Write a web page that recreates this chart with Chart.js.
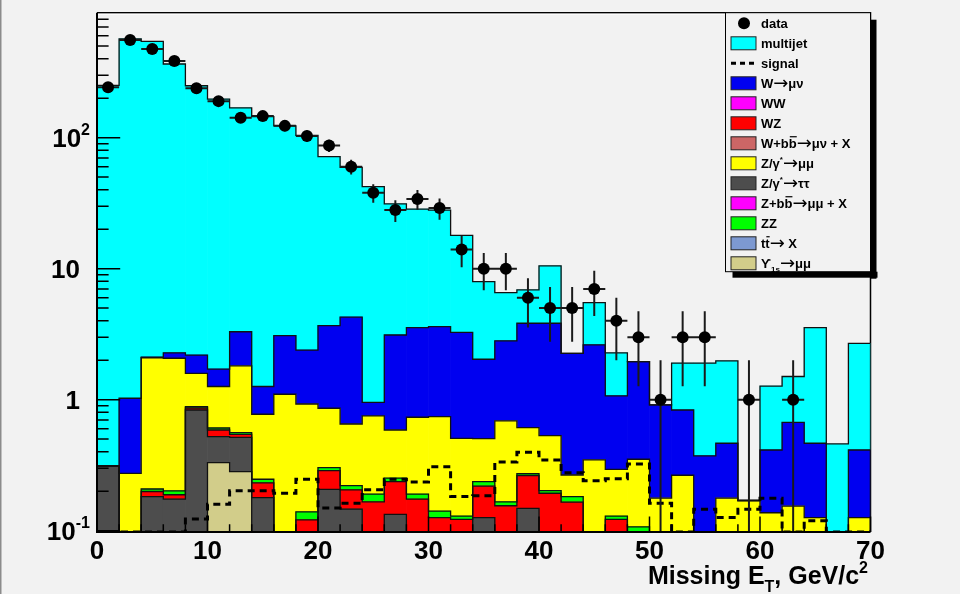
<!DOCTYPE html>
<html>
<head>
<meta charset="utf-8">
<script src="https://cdn.jsdelivr.net/npm/chart.js@4.4.1/dist/chart.umd.min.js"></script>
<style>
  html, body { margin: 0; padding: 0; background: #f2f2f2; }
  #wrap { width: 960px; height: 594px; }
  canvas { display: block; }
</style>
</head>
<body>
<div id="wrap"><canvas id="met" width="960" height="594"></canvas></div>
<script>
// Missing E_T spectrum, 2 GeV/c^2 bins from 0 to 70
const binCenters = [1, 3, 5, 7, 9, 11, 13, 15, 17, 19, 21, 23, 25, 27, 29, 31, 33, 35,
                    37, 39, 41, 43, 45, 47, 49, 51, 53, 55, 57, 59, 61, 63, 65, 67, 69];
const binHalfWidth = 1;

// observed events per bin
const dataCounts = [243, 557, 475, 385, 238, 190, 142, 146, 123, 103, 87, 60, 38, 28, 34, 29, 14, 10,
                    10, 6, 5, 5, 7, 4, 3, 1, 3, 3, 0, 1, 0, 1, 0, 0, 0];

// expected contributions, listed from the bottom of the stack upwards
const upsilon1s = [0, 0, 0, 0, 0, 0.331, 0.282, 0, 0, 0, 0, 0, 0, 0, 0, 0, 0, 0,
                   0, 0, 0, 0, 0, 0, 0, 0, 0, 0, 0, 0, 0, 0, 0, 0, 0];
const zTauTau = [0.312, 0, 0.182, 0.174, 0.834, 0.191, 0.234, 0.179, 0, 0, 0.207, 0.146, 0, 0.133, 0, 0, 0, 0.126,
                 0, 0.148, 0, 0, 0, 0, 0, 0, 0, 0, 0, 0, 0, 0, 0, 0, 0];
const wz = [0, 0, 0.017, 0.014, 0.030, 0.065, 0.028, 0.053, 0, 0.121, 0.080, 0.059, 0.166, 0.104, 0.174, 0.126, 0.122, 0.093,
            0.155, 0.115, 0.193, 0.165, 0, 0.122, 0, 0, 0, 0, 0, 0, 0, 0, 0, 0, 0];
const zz = [0, 0, 0.009, 0.013, 0.020, 0.021, 0.016, 0.015, 0, 0.018, 0.016, 0.016, 0.024, 0.015, 0.016, 0.015, 0.007, 0.018,
            0.011, 0.009, 0.009, 0.017, 0, 0.007, 0.107, 0, 0, 0, 0, 0, 0, 0, 0, 0, 0];
const zMuMu = [0, 0.274, 1.882, 1.869, 0.706, 0.652, 1.25, 0.527, 1.10, 0.788, 0.557, 0.431, 0.561, 0.335, 0.544, 0.601, 0.378, 0.267,
               0.522, 0.339, 0.329, 0.084, 0.347, 0.165, 0.244, 0.177, 0.265, 0, 0.177, 0.170, 0.137, 0.154, 0.126, 0, 0.126];
const wMuNu = [0, 0.751, 0.02, 0.21, 0.60, 0.45, 1.49, 0.486, 1.98, 1.463, 2.81, 3.61, 0.204, 2.53, 2.81, 2.87, 2.76, 1.53,
               2.12, 3.22, 3.30, 1.99, 2.27, 0.776, 1.60, 0.734, 0.569, 0.372, 0.288, 0, 0.276, 0.518, 0.339, 0, 0.287];
const multijet = [250.7, 566, 541, 362.7, 246.8, 195.3, 165.7, 143.7, 119.9, 101.6, 67.9, 55.1, 41.3, 28.1, 24.9, 24.4, 14.7, 5.93,
                  3.75, 3.05, 6.67, 0, 2.88, 1.21, 0, 0, 1.07, 1.53, 1.51, 0, 0.857, 0.83, 3.08, 0.459, 2.28];

// signal expectation (overlaid, not stacked)
const signal = [0, 0, 0, 0, 0.123, 0.159, 0.202, 0.202, 0.193, 0.247, 0.149, 0.162, 0.205, 0.247, 0.235, 0.308, 0.182, 0.185,
                0.335, 0.397, 0.347, 0.277, 0.241, 0.249, 0.323, 0.162, 0, 0.146, 0.126, 0.146, 0.177, 0, 0.119, 0, 0];

// axis ranges and tick labels
const X_MIN = 0, X_MAX = 70;
const Y_MIN = 0.0977, Y_MAX = 899;
const xMajorTicks = [0, 10, 20, 30, 40, 50, 60, 70];
const xMinorStep = 2;
const yDecades = [0.1, 1, 10, 100];
const yTickLabels = [['10', '-1'], ['1', ''], ['10', ''], ['10', '2']];

const FONT = '"Liberation Sans", Arial, Helvetica, sans-serif';
const ARROW_FONT = '"DejaVu Sans", sans-serif';
const BG = '#f2f2f2';

const stackDefs = [
  { label: 'Υ1s→μμ', values: upsilon1s, color: '#d2cd8a' },
  { label: 'Z/γ*→ττ', values: zTauTau, color: '#4d4d4d' },
  { label: 'WZ', values: wz, color: '#ff0000' },
  { label: 'ZZ', values: zz, color: '#00ff00' },
  { label: 'Z/γ*→μμ', values: zMuMu, color: '#ffff00' },
  { label: 'W→μν', values: wMuNu, color: '#0000f0' },
  { label: 'multijet', values: multijet, color: '#00ffff' },
];

const legendRows = [
  { kind: 'marker', parts: [{ t: 'data' }] },
  { kind: 'box', color: '#00ffff', parts: [{ t: 'multijet' }] },
  { kind: 'dash', parts: [{ t: 'signal' }] },
  { kind: 'box', color: '#0000f0', parts: [{ t: 'W→μν' }] },
  { kind: 'box', color: '#ff00ff', parts: [{ t: 'WW' }] },
  { kind: 'box', color: '#ff0000', parts: [{ t: 'WZ' }] },
  { kind: 'box', color: '#cc6666', parts: [{ t: 'W+b' }, { t: 'b', bar: true }, { t: '→μν + X' }] },
  { kind: 'box', color: '#ffff00', parts: [{ t: 'Z/γ' }, { t: '*', sup: true }, { t: '→μμ' }] },
  { kind: 'box', color: '#4d4d4d', parts: [{ t: 'Z/γ' }, { t: '*', sup: true }, { t: '→ττ' }] },
  { kind: 'box', color: '#ff00ff', parts: [{ t: 'Z+b' }, { t: 'b', bar: true }, { t: '→μμ + X' }] },
  { kind: 'box', color: '#00ff00', parts: [{ t: 'ZZ' }] },
  { kind: 'box', color: '#7d99d1', parts: [{ t: 't' }, { t: 't', bar: true }, { t: '→ X' }] },
  { kind: 'box', color: '#d2cd8a', parts: [{ t: 'ϒ' }, { t: '1s', sub: true }, { t: '→μμ' }] },
];

// split arrows out so they can use a font with a long arrow glyph
function expandParts(parts) {
  const out = [];
  for (const p of parts) {
    const pieces = p.t.split(/(→)/);
    for (const t of pieces) {
      if (!t) continue;
      out.push(Object.assign({}, p, { t, arrow: t === '→' }));
    }
  }
  return out;
}

// text with sub/superscripts and overbars; y is the baseline
function drawRich(ctx, parts, x, y, size, align) {
  const fontOf = (p) => {
    if (p.arrow) return `${Math.round(size * 1.35)}px ${ARROW_FONT}`;
    const s = (p.sub || p.sup) ? Math.round(size * 0.62) : size;
    return `bold ${s}px ${FONT}`;
  };
  const segs = expandParts(parts).map(p => {
    ctx.font = fontOf(p);
    return { p, w: ctx.measureText(p.t).width };
  });
  const total = segs.reduce((a, g) => a + g.w, 0);
  let cx = align === 'right' ? x - total : align === 'center' ? x - total / 2 : x;
  ctx.textAlign = 'left';
  ctx.textBaseline = 'alphabetic';
  for (const g of segs) {
    ctx.font = fontOf(g.p);
    const dy = g.p.sub ? size * 0.32 : g.p.sup ? -size * 0.45 : g.p.arrow ? size * 0.05 : 0;
    ctx.fillText(g.p.t, cx, y + dy);
    if (g.p.bar) ctx.fillRect(cx + 1, y - size * 0.92, g.w - 1, Math.max(1.2, size * 0.09));
    cx += g.w;
  }
  return total;
}

function cumulativeUpTo(k, i) {
  let s = 0;
  for (let j = 0; j <= k; j++) s += stackDefs[j].values[i];
  return s;
}

const rootStyle = {
  id: 'rootStyle',
  beforeDraw(chart) {
    const { ctx, width, height } = chart;
    ctx.save();
    ctx.fillStyle = BG;
    ctx.fillRect(0, 0, width, height);
    ctx.fillStyle = '#8c8c8c';
    ctx.fillRect(0, 0, 1.5, height);
    ctx.restore();
  },
  beforeDatasetsDraw(chart) {
    const { ctx, chartArea: a } = chart;
    ctx.save();
    ctx.strokeStyle = '#000';
    ctx.lineWidth = 1.5;
    ctx.beginPath();
    ctx.moveTo(a.left, a.top);
    ctx.lineTo(a.right, a.top);
    ctx.lineTo(a.right, a.bottom);
    ctx.stroke();
    ctx.fillStyle = '#ffffff';
    ctx.fillRect(a.left + 1, a.top + 1, a.right - a.left - 2, 1);
    ctx.restore();
  },
  beforeDatasetDraw(chart, args) {
    const { ctx, chartArea: a } = chart;
    const xs = chart.scales.x, ys = chart.scales.y;
    const ds = chart.data.datasets[args.index];
    if (ds.role === 'signal') {
      // outline of each cumulative histogram in the stack
      ctx.save();
      ctx.beginPath();
      ctx.rect(a.left, a.top, a.right - a.left, a.bottom - a.top);
      ctx.clip();
      ctx.strokeStyle = '#111';
      ctx.lineWidth = 1.3;
      for (let k = stackDefs.length - 1; k >= 0; k--) {
        if (!stackDefs[k].values.some(v => v > 0)) continue;
        ctx.beginPath();
        const x0 = xs.getPixelForValue(binCenters[0] - binHalfWidth);
        ctx.moveTo(x0, a.bottom + 2);
        for (let i = 0; i < binCenters.length; i++) {
          const l = xs.getPixelForValue(binCenters[i] - binHalfWidth);
          const r = xs.getPixelForValue(binCenters[i] + binHalfWidth);
          const c = cumulativeUpTo(k, i);
          const py = c > 0 ? ys.getPixelForValue(c) : a.bottom + 2;
          ctx.lineTo(l, py);
          ctx.lineTo(r, py);
        }
        ctx.lineTo(xs.getPixelForValue(X_MAX), a.bottom + 2);
        ctx.stroke();
      }
      ctx.restore();
    }
    if (ds.role === 'data') {
      // Poisson error bars on the observed counts
      ctx.save();
      ctx.beginPath();
      ctx.rect(a.left, a.top, a.right - a.left, a.bottom - a.top);
      ctx.clip();
      ctx.strokeStyle = '#1a1a1a';
      ctx.lineWidth = 2;
      ctx.beginPath();
      for (let i = 0; i < binCenters.length; i++) {
        const n = dataCounts[i];
        if (!(n > 0)) continue;
        const e = Math.sqrt(n);
        const px = xs.getPixelForValue(binCenters[i]);
        const py = ys.getPixelForValue(n);
        const hi = ys.getPixelForValue(n + e);
        const lo = n - e > 0 ? ys.getPixelForValue(n - e) : a.bottom;
        ctx.moveTo(px, hi); ctx.lineTo(px, lo);
        ctx.moveTo(xs.getPixelForValue(binCenters[i] - binHalfWidth), py);
        ctx.lineTo(xs.getPixelForValue(binCenters[i] + binHalfWidth), py);
      }
      ctx.stroke();
      ctx.restore();
    }
  },
  afterDatasetsDraw(chart) {
    const { ctx, chartArea: a } = chart;
    const xs = chart.scales.x, ys = chart.scales.y;
    ctx.save();
    ctx.strokeStyle = '#000';
    ctx.fillStyle = '#000';
    // axis lines
    ctx.lineWidth = 2;
    ctx.beginPath();
    ctx.moveTo(a.left, a.top);
    ctx.lineTo(a.left, a.bottom);
    ctx.lineTo(a.right, a.bottom);
    ctx.stroke();
    // ticks, pointing into the frame
    const yMajLen = 0.03 * (a.right - a.left), xMajLen = 0.03 * (a.bottom - a.top);
    ctx.lineWidth = 1.5;
    ctx.beginPath();
    for (const d of yDecades) {
      for (let m = 1; m <= 9; m++) {
        const v = d * m;
        if (v < Y_MIN || v > Y_MAX) continue;
        const py = ys.getPixelForValue(v);
        ctx.moveTo(a.left, py);
        ctx.lineTo(a.left + (m === 1 ? yMajLen : yMajLen / 2), py);
      }
    }
    for (let v = X_MIN; v <= X_MAX; v += xMinorStep) {
      const px = xs.getPixelForValue(v);
      const major = xMajorTicks.includes(v);
      ctx.moveTo(px, a.bottom);
      ctx.lineTo(px, a.bottom - (major ? xMajLen : xMajLen / 2));
    }
    ctx.stroke();
    // tick labels
    for (const v of xMajorTicks) {
      drawRich(ctx, [{ t: String(v) }], xs.getPixelForValue(v), a.bottom + 27, 26, 'center');
    }
    yDecades.forEach((d, i) => {
      const [base, expo] = yTickLabels[i];
      const py = ys.getPixelForValue(d) + 9;
      if (expo) drawRich(ctx, [{ t: base }, { t: expo, sup: true }], 90, py, 26, 'right');
      else drawRich(ctx, [{ t: base }], 80, py, 26, 'right');
    });
    // axis title
    drawRich(ctx, [{ t: 'Missing E' }, { t: 'T', sub: true }, { t: ', GeV/c' }, { t: '2', sup: true }],
             868, 584, 25, 'right');
    ctx.restore();
  },
  afterDraw(chart) {
    const { ctx } = chart;
    const L = 725.5, T = 12.7, R = 870.5, B = 271.7, sh = 6;
    ctx.save();
    ctx.fillStyle = '#000';
    ctx.fillRect(L + sh + 1, B, R - L, sh);
    ctx.fillRect(R, T + sh + 1, sh, B - T);
    ctx.fillStyle = BG;
    ctx.fillRect(L, T, R - L, B - T);
    ctx.strokeStyle = '#000';
    ctx.lineWidth = 1;
    ctx.strokeRect(L, T, R - L, B - T);
    legendRows.forEach((row, k) => {
      const cy = 23.3 + 20 * k;
      if (row.kind === 'marker') {
        ctx.fillStyle = '#000';
        ctx.beginPath();
        ctx.arc(744, cy, 6, 0, Math.PI * 2);
        ctx.fill();
      } else if (row.kind === 'dash') {
        ctx.strokeStyle = '#000';
        ctx.lineWidth = 3;
        ctx.setLineDash([5, 4]);
        ctx.beginPath();
        ctx.moveTo(731, cy);
        ctx.lineTo(757, cy);
        ctx.stroke();
        ctx.setLineDash([]);
      } else {
        ctx.fillStyle = row.color;
        ctx.fillRect(731, cy - 6.5, 25, 13);
        ctx.strokeStyle = '#222';
        ctx.lineWidth = 1;
        ctx.strokeRect(731, cy - 6.5, 25, 13);
      }
      ctx.fillStyle = '#000';
      drawRich(ctx, row.parts, 761, cy + 4.8, 13, 'left');
    });
    ctx.restore();
  }
};

const datasets = [
  {
    role: 'data',
    type: 'line',
    stack: 'observed',
    label: 'data',
    data: binCenters.map((x, i) => ({ x, y: dataCounts[i] })).filter(p => p.y > 0),
    showLine: false,
    pointRadius: 6,
    pointHoverRadius: 6,
    pointBackgroundColor: '#000',
    pointBorderWidth: 0,
  },
  {
    role: 'signal',
    type: 'line',
    stack: 'signal',
    label: 'signal',
    // step outline through the bin edges; empty bins sit on the axis floor
    data: binCenters.map((x, i) => ({ x: x - binHalfWidth, y: signal[i] > 0 ? signal[i] : Y_MIN }))
      .concat([{ x: X_MAX, y: Y_MIN }]),
    stepped: 'before',
    borderColor: '#000',
    borderWidth: 3,
    borderDash: [7, 5],
    pointRadius: 0,
    fill: false,
  },
].concat(stackDefs.map(s => ({
  type: 'bar',
  stack: 'expected',
  label: s.label,
  data: binCenters.map((x, i) => ({ x, y: s.values[i] })),
  backgroundColor: s.color,
  borderWidth: 0,
  barPercentage: 1,
  categoryPercentage: 1,
})));

new Chart(document.getElementById('met'), {
  type: 'bar',
  data: { datasets },
  plugins: [rootStyle],
  options: {
    responsive: false,
    animation: false,
    devicePixelRatio: 1,
    layout: { padding: { left: 97, right: 89.5, top: 12.7, bottom: 62 } },
    plugins: { legend: { display: false }, tooltip: { enabled: false } },
    scales: {
      x: { type: 'linear', min: X_MIN, max: X_MAX, offset: false, display: false, grid: { offset: false } },
      y: { type: 'logarithmic', min: Y_MIN, max: Y_MAX, stacked: true, display: false },
    },
  },
});
</script>
</body>
</html>
